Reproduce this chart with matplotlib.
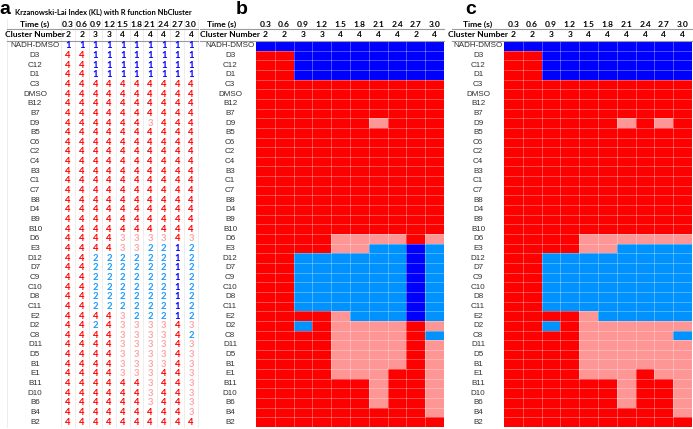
import matplotlib
matplotlib.use("Agg")
import matplotlib.pyplot as plt
from matplotlib.colors import ListedColormap, BoundaryNorm
import numpy as np

# Datos de la figura
filas = ["NADH-DMSO", "D3", "C12", "D1", "C3", "DMSO", "B12", "B7", "D9", "B5",
         "C6", "C2", "C4", "B3", "C1", "C7", "B8", "D4", "B9", "B10",
         "D6", "E3", "D12", "D7", "C9", "C10", "D8", "C11", "E2", "D2",
         "C8", "D11", "D5", "B1", "E1", "B11", "D10", "B6", "B4", "B2"]
tiempos = ["0.3", "0.6", "0.9", "1.2", "1.5", "1.8", "2.1", "2.4", "2.7", "3.0"]
clusters_kl = [2, 2, 3, 3, 4, 4, 4, 4, 2, 4]
clusters_c = [2, 2, 3, 3, 4, 4, 4, 4, 4, 4]

# asignacion de cluster por fila (paneles a y b)
asignacion_kl = [
    "1111111111", "4411111111", "4411111111", "4411111111",
    "4444444444", "4444444444", "4444444444", "4444444444",
    "4444443444", "4444444444", "4444444444", "4444444444",
    "4444444444", "4444444444", "4444444444", "4444444444",
    "4444444444", "4444444444", "4444444444", "4444444444",
    "4444333343", "4444332212", "4422222212", "4422222212",
    "4422222212", "4422222212", "4422222212", "4422222212",
    "4444322212", "4424333343", "4444333342", "4444333343",
    "4444333343", "4444333343", "4444333443", "4444443443",
    "4444443443", "4444443443", "4444444443", "4444444444",
]
# asignacion de cluster por fila (panel c)
asignacion_c = [
    "1111111111", "4411111111", "4411111111", "4411111111",
    "4444444444", "4444444444", "4444444444", "4444444444",
    "4444443434", "4444444444", "4444444444", "4444444444",
    "4444444444", "4444444444", "4444444444", "4444444444",
    "4444444444", "4444444444", "4444444444", "4444444444",
    "4444333333", "4444332222", "4422222222", "4422222222",
    "4422222222", "4422222222", "4422222222", "4422222222",
    "4444322222", "4424333333", "4444333332", "4444333333",
    "4444333333", "4444333333", "4444333433", "4444443443",
    "4444443443", "4444443443", "4444444443", "4444444444",
]

M_kl = np.array([[int(c) for c in f] for f in asignacion_kl])
M_c = np.array([[int(c) for c in f] for f in asignacion_c])

colores = ["#0000FF", "#0092FF", "#FF9696", "#FF0000"]
colores_txt = {1: "#0000FF", 2: "#1A9BFF", 3: "#FFA3A3", 4: "#FF0000"}
cmap = ListedColormap(colores)
norm = BoundaryNorm([0.5, 1.5, 2.5, 3.5, 4.5], cmap.N)

W, H = 693, 429
fig = plt.figure(figsize=(W / 100, H / 100), dpi=100)
fig.patch.set_facecolor("white")

TOP, BOT = 41, 427
ROW_H = (BOT - TOP) / len(filas)
FUENTE_ETQ = "Liberation Sans"
FUENTE_CAB = "Lato"


def crear_ejes(x0, x1):
    ax = fig.add_axes([x0 / W, 1 - BOT / H, (x1 - x0) / W, (BOT - TOP) / H])
    ax.set_xlim(0, len(tiempos))
    ax.set_ylim(len(filas), 0)
    ax.axis("off")
    return ax


def cabeceras(ax, x_etq, clusters, x_linea, x_fin, x_tiempo=None):
    y_t = -(41 - 24) / ROW_H
    y_c = -(41 - 34.5) / ROW_H
    if x_tiempo is None:
        x_tiempo = x_etq
    ax.text(x_tiempo, y_t, "Time (s)", ha="center", va="center", fontsize=6.1,
            fontweight="bold", family=FUENTE_CAB, clip_on=False)
    ax.text(x_etq, y_c, "Cluster Number", ha="center", va="center", fontsize=6.1,
            fontweight="bold", family=FUENTE_CAB, clip_on=False)
    for j, (t, k) in enumerate(zip(tiempos, clusters)):
        ax.text(j + 0.5, y_t, t, ha="center", va="center", fontsize=6.1,
                fontweight="bold", family=FUENTE_CAB, clip_on=False)
        ax.text(j + 0.5, y_c, str(k), ha="center", va="center", fontsize=6.1,
                fontweight="bold", family=FUENTE_CAB, clip_on=False)
    ax.plot([x_linea, x_fin], [-(41 - 28.5) / ROW_H] * 2, color="#9a9a9a",
            lw=0.8, clip_on=False)
    ax.plot([x_linea, x_fin], [-0.05] * 2, color="#9a9a9a", lw=0.8, clip_on=False)
    for i, nombre in enumerate(filas):
        ax.text(x_etq, i + 0.5, nombre, ha="center", va="center", fontsize=5.8,
                color="#303030", family=FUENTE_ETQ, clip_on=False)


def heatmap(ax, M):
    ax.pcolormesh(np.arange(M.shape[1] + 1), np.arange(M.shape[0] + 1), M,
                  cmap=cmap, norm=norm)
    ax.hlines(np.arange(1, M.shape[0]), 0, M.shape[1], color="white",
              lw=0.6, alpha=0.35)
    ax.vlines(np.arange(1, M.shape[1]), 0, M.shape[0], color="white",
              lw=0.6, alpha=0.35)


# --- Panel a: tabla de numeros ---
xa0, xa1 = 61.2, 197.8
ax_a = crear_ejes(xa0, xa1)
cw_a = (xa1 - xa0) / 10
x_etq_a = (35 - xa0) / cw_a
x_izq_a = (7 - xa0) / cw_a
for xv in list(range(0, 11)) + [x_izq_a]:
    ax_a.plot([xv, xv], [-(41 - 19) / ROW_H, len(filas)], color="#e6e6e6",
              lw=0.5, clip_on=False, zorder=0)
cabeceras(ax_a, x_etq_a, clusters_kl, x_izq_a, 10)
for i in range(M_kl.shape[0]):
    for j in range(M_kl.shape[1]):
        v = M_kl[i, j]
        ax_a.text(j + 0.5, i + 0.5, str(v), ha="center", va="center",
                  fontsize=6.8, fontweight="bold", family=FUENTE_CAB,
                  color=colores_txt[v])
fig.text(103 / W, 1 - 12 / H, "Krzanowski-Lai Index (KL) with R function NbCluster",
         ha="center", va="center", fontsize=5.4, fontweight="bold", family=FUENTE_CAB)

# --- Panel b ---
xb0, xb1 = 256, 444
ax_b = crear_ejes(xb0, xb1)
cw_b = (xb1 - xb0) / 10
heatmap(ax_b, M_kl)
cabeceras(ax_b, (230 - xb0) / cw_b, clusters_kl, (200 - xb0) / cw_b, 10,
          x_tiempo=(222 - xb0) / cw_b)

# --- Panel c ---
xc0, xc1 = 504, 692
ax_c = crear_ejes(xc0, xc1)
cw_c = (xc1 - xc0) / 10
heatmap(ax_c, M_c)
cabeceras(ax_c, (478 - xc0) / cw_c, clusters_c, (452 - xc0) / cw_c, 10)

# letras de panel
for letra, xp in [("a", 5), ("b", 242), ("c", 471)]:
    fig.text(xp / W, 1 - 10 / H, letra, ha="center", va="center", fontsize=14,
             fontweight="bold", family="Liberation Sans")

fig.savefig("out.png", dpi=100)
plt.close(fig)
